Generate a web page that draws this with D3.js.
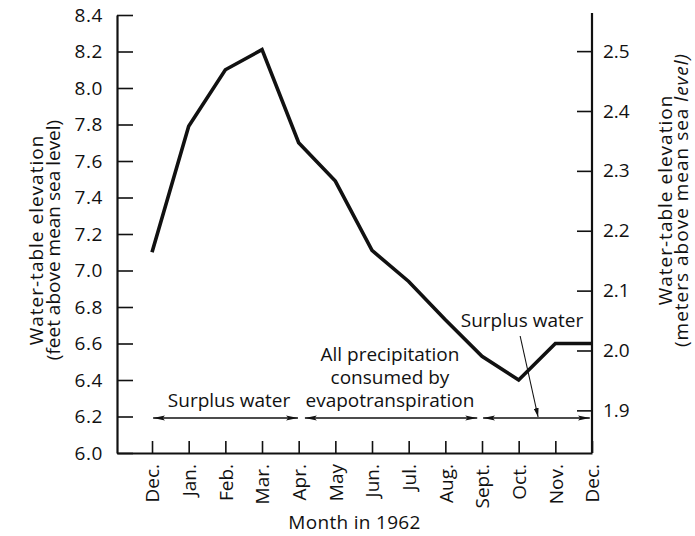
<!DOCTYPE html>
<html>
<head>
<meta charset="utf-8">
<script src="https://cdn.jsdelivr.net/npm/d3@7"></script>
<style>
  html, body { margin: 0; padding: 0; background: #fff; }
  svg { display: block; }
  text { font-family: "Open Sans", "DejaVu Sans", sans-serif; fill: #111; }
</style>
</head>
<body>
<svg id="chart" width="695" height="536"></svg>
<script>
// Month index 0..12 runs from Dec. 1961 through Dec. 1962
const monthIndex = [0, 1, 2, 3, 4, 5, 6, 7, 8, 9, 10, 11, 12];
const monthLabels = ["Dec.", "Jan.", "Feb.", "Mar.", "Apr.", "May", "Jun.", "Jul.", "Aug.", "Sept.", "Oct.", "Nov.", "Dec."];
// Water-table elevation, feet above mean sea level
const elevationFt = [7.10, 7.79, 8.10, 8.21, 7.70, 7.49, 7.11, 6.94, 6.73, 6.53, 6.40, 6.60, 6.60];

const feetTicks = [6.0, 6.2, 6.4, 6.6, 6.8, 7.0, 7.2, 7.4, 7.6, 7.8, 8.0, 8.2, 8.4];
const meterTicks = [1.9, 2.0, 2.1, 2.2, 2.3, 2.4, 2.5];
const FT_TO_M = 0.3048;

// Water-budget periods (start month, end month) shown as double arrows
const periodSpans = [[0.03, 3.98], [4.17, 8.87], [9.03, 11.94]];
const leftNote = ["Surplus water"];
const middleNote = ["All precipitation", "consumed by", "evapotranspiration"];
const rightNote = ["Surplus water"];

const svg = d3.select("#chart");

const x = d3.scaleLinear().domain([-0.955, 12]).range([117, 592]);
const y = d3.scaleLinear().domain([6.0, 8.4]).range([453, 15]);
const yM = d3.scaleLinear().domain([6.0 * FT_TO_M, 8.4 * FT_TO_M]).range([453, 15]);

const FS = 19;

// Arrowhead markers
const defs = svg.append("defs");
defs.append("marker")
  .attr("id", "head").attr("markerUnits", "userSpaceOnUse")
  .attr("viewBox", "0 0 12 6").attr("refX", 12).attr("refY", 3)
  .attr("markerWidth", 12).attr("markerHeight", 6).attr("orient", "auto-start-reverse")
  .append("path").attr("d", "M0,0.4 L12,3 L0,5.6 L2.5,3 Z").attr("fill", "#111");
defs.append("marker")
  .attr("id", "headSmall").attr("markerUnits", "userSpaceOnUse")
  .attr("viewBox", "0 0 9 5").attr("refX", 9).attr("refY", 2.5)
  .attr("markerWidth", 9).attr("markerHeight", 5).attr("orient", "auto")
  .append("path").attr("d", "M0,0 L9,2.5 L0,5 Z").attr("fill", "#111");

function styleTicks(g) {
  g.selectAll(".tick line").attr("stroke", "#111").attr("stroke-width", 1.6);
  g.selectAll(".tick text").style("font-size", FS + "px").attr("fill", "#111")
    .style("font-family", "'Open Sans', sans-serif");
}

// Left axis (feet)
const leftAxis = svg.append("g")
  .attr("transform", `translate(${x.range()[0]},0)`)
  .call(d3.axisLeft(y).tickValues(feetTicks).tickFormat(d3.format(".1f"))
    .tickSizeInner(-16).tickSizeOuter(0).tickPadding(14));
leftAxis.select(".domain").attr("stroke", "#111").attr("stroke-width", 2.2);
styleTicks(leftAxis);
leftAxis.selectAll(".tick text").style("letter-spacing", "0.6px");

// Right axis (meters)
const rightAxis = svg.append("g")
  .attr("transform", `translate(${x.range()[1]},0)`)
  .call(d3.axisRight(yM).tickValues(meterTicks).tickFormat(d3.format(".1f"))
    .tickSizeInner(-15).tickSizeOuter(0).tickPadding(11));
rightAxis.select(".domain").attr("stroke", "#111").attr("stroke-width", 2.2)
  .attr("d", `M0,${y.range()[1] - 2}V${y.range()[0]}`);
styleTicks(rightAxis);

// Bottom axis (months)
const bottomAxis = svg.append("g")
  .attr("transform", `translate(0,${y.range()[0]})`)
  .call(d3.axisBottom(x).tickValues(monthIndex).tickFormat(i => monthLabels[i])
    .tickSizeInner(-12).tickSizeOuter(0));
bottomAxis.select(".domain").attr("stroke", "#111").attr("stroke-width", 2.2);
styleTicks(bottomAxis);
bottomAxis.selectAll(".tick text")
  .attr("x", 0).attr("y", 0).attr("dy", "0.36em")
  .attr("transform", "translate(0,11) rotate(-90)")
  .attr("text-anchor", "end");

// Axis titles
svg.append("text")
  .attr("x", (x.range()[0] + x.range()[1]) / 2).attr("y", 529)
  .attr("text-anchor", "middle").style("font-size", FS + "px")
  .style("letter-spacing", "0.3px")
  .text("Month in 1962");

const leftTitle = svg.append("text")
  .attr("transform", `translate(43,240) rotate(-90)`)
  .attr("text-anchor", "middle").style("font-size", FS + "px");
leftTitle.append("tspan").attr("x", 0).attr("y", 0)
  .style("letter-spacing", "1px").text("Water-table elevation");
leftTitle.append("tspan").attr("x", 0).attr("y", 17).text("(feet above mean sea level)");

const rightTitle = svg.append("text")
  .attr("transform", `translate(672,200) rotate(-90)`)
  .attr("text-anchor", "middle").style("font-size", FS + "px");
rightTitle.append("tspan").attr("x", 0).attr("y", 0)
  .style("letter-spacing", "1px").text("Water-table elevation");
const rt2 = rightTitle.append("tspan").attr("x", 0).attr("y", 16).style("letter-spacing", "1px");
rt2.append("tspan").text("(meters above mean sea ");
rt2.append("tspan").style("font-style", "italic").text("level)");

// Hydrograph line
svg.append("path")
  .datum(monthIndex.map((m, i) => [m, elevationFt[i]]))
  .attr("fill", "none").attr("stroke", "#111").attr("stroke-width", 3.6)
  .attr("stroke-linejoin", "miter")
  .attr("d", d3.line().x(d => x(d[0])).y(d => y(d[1])));

// Period arrows along the 6.2-ft level
const arrowY = y(6.2) + 1.5;
svg.selectAll(".span")
  .data(periodSpans).enter().append("line")
  .attr("x1", d => x(d[0])).attr("x2", d => x(d[1]))
  .attr("y1", arrowY).attr("y2", arrowY)
  .attr("stroke", "#111").attr("stroke-width", 1.3)
  .attr("marker-start", "url(#head)").attr("marker-end", "url(#head)");

// Annotation text: one text element per note, one tspan per line
function block(lines, cx, baseline, lh) {
  const t = svg.append("text").attr("text-anchor", "middle").style("font-size", FS + "px");
  lines.forEach((s, i) => {
    t.append("tspan").attr("x", cx).attr("y", baseline + i * lh).text(s);
  });
}
block(leftNote, x(2.1), 407, 23);
block(middleNote, x(6.49), 361, 23);
block(rightNote, x(10.09), 327, 23);

// Pointer from right note down to the last period arrow
svg.append("line")
  .attr("x1", x(10.04)).attr("y1", 336)
  .attr("x2", x(10.53)).attr("y2", arrowY - 1)
  .attr("stroke", "#111").attr("stroke-width", 1.1)
  .attr("marker-end", "url(#headSmall)");
</script>
</body>
</html>
